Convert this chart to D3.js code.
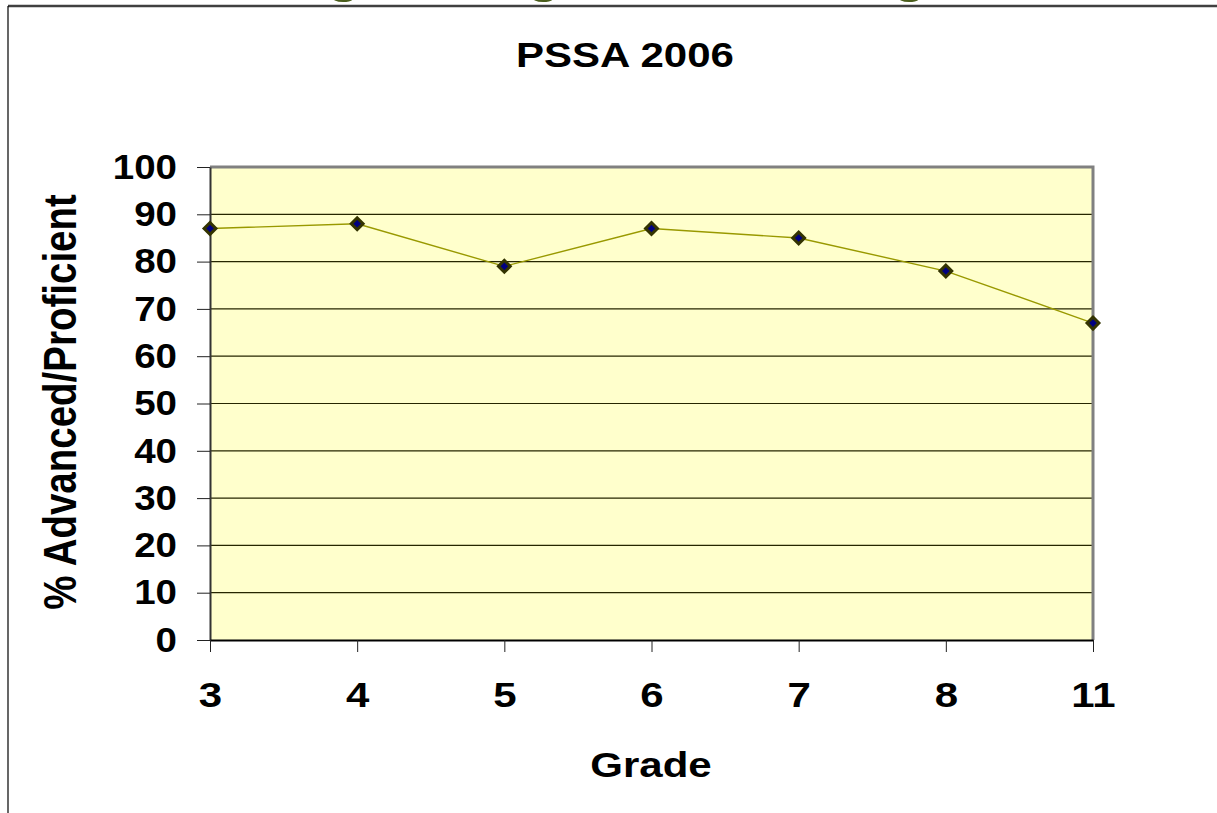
<!DOCTYPE html>
<html>
<head>
<meta charset="utf-8">
<script src="https://cdn.jsdelivr.net/npm/d3@7"></script>
<style>
  body { margin: 0; background: #fff; }
  text { font-family: "Liberation Sans", Arial, sans-serif; font-weight: bold; }
</style>
</head>
<body>
<svg id="chart" width="1217" height="813"></svg>
<script>
// data
const grades = ["3", "4", "5", "6", "7", "8", "11"];
const pctAdvProf = [87, 88, 79, 87, 85, 78, 67];
const yTicks = [0, 10, 20, 30, 40, 50, 60, 70, 80, 90, 100];

const width = 1217, height = 813;
const plot = { left: 210, right: 1093, top: 167, bottom: 640 };
const sx = 1.2; // the slide is stretched sideways a little

const svg = d3.select("#chart");

// slide frame
svg.append("line")
  .attr("x1", 8).attr("x2", width).attr("y1", 6).attr("y2", 6)
  .attr("stroke", "#404040").attr("stroke-width", 2.5);
svg.append("line")
  .attr("x1", 8).attr("x2", 8).attr("y1", 6).attr("y2", height)
  .attr("stroke", "#000").attr("stroke-width", 1.2);

// bits of the cut off slide heading
[344, 544, 910].forEach(cx => {
  svg.append("text")
    .attr("transform", `translate(${cx},-7.5) scale(${sx},1)`)
    .attr("text-anchor", "middle")
    .attr("font-size", 44)
    .attr("fill", "#4b5e1c")
    .text("g");
});

const x = d3.scalePoint().domain(grades).range([plot.left, plot.right]);
const y = d3.scaleLinear().domain([0, 100]).range([plot.bottom, plot.top]);

// plot area
svg.append("rect")
  .attr("x", plot.left).attr("y", plot.top)
  .attr("width", plot.right - plot.left).attr("height", plot.bottom - plot.top)
  .attr("fill", "#ffffcc");

// gridlines
svg.append("g")
  .selectAll("line")
  .data(yTicks.filter(v => v > 0 && v < 100))
  .enter()
  .append("line")
  .attr("x1", plot.left).attr("x2", plot.right)
  .attr("y1", d => y(d)).attr("y2", d => y(d))
  .attr("stroke", "#262600").attr("stroke-width", 1.2);

// top and right border
svg.append("path")
  .attr("d", `M${plot.left},${plot.top}H${plot.right}V${plot.bottom}`)
  .attr("fill", "none").attr("stroke", "#808080").attr("stroke-width", 3);

// y axis
const yAxis = svg.append("g")
  .attr("transform", `translate(${plot.left},0)`)
  .call(d3.axisLeft(y).tickValues(yTicks).tickSize(13).tickSizeOuter(0).tickPadding(20));
yAxis.select(".domain").attr("stroke", "#333").attr("stroke-width", 2);
yAxis.selectAll(".tick line").attr("stroke", "#222");
yAxis.selectAll("text")
  .attr("font-size", 35).attr("fill", "#000")
  .each(function () {
    const t = d3.select(this);
    const tx = +t.attr("x");
    t.attr("x", 0).attr("transform", `translate(${tx},0) scale(1.1,1)`);
  });

// x axis
const xAxis = svg.append("g")
  .attr("transform", `translate(0,${plot.bottom})`)
  .call(d3.axisBottom(x).tickSize(12).tickSizeOuter(0).tickPadding(30));
xAxis.select(".domain").attr("stroke", "#000").attr("stroke-width", 2);
xAxis.selectAll(".tick line").attr("stroke", "#222");
xAxis.selectAll("text")
  .attr("font-size", 35).attr("fill", "#000")
  .each(function () {
    const t = d3.select(this);
    const ty = +t.attr("y");
    t.attr("y", 0).attr("transform", `translate(0,${ty}) scale(${sx},1)`);
  });

// series line
const pts = grades.map((g, i) => ({ grade: g, value: pctAdvProf[i] }));
svg.append("path")
  .datum(pts)
  .attr("fill", "none")
  .attr("stroke", "#999900")
  .attr("stroke-width", 1.4)
  .attr("d", d3.line().x(d => x(d.grade)).y(d => y(d.value)));

// diamond markers
const diamond = d3.symbol().type(d3.symbolSquare).size(70);
svg.append("g")
  .selectAll("path")
  .data(pts)
  .enter()
  .append("path")
  .attr("d", diamond)
  .attr("transform", d => `translate(${x(d.grade)},${y(d.value)}) rotate(45)`)
  .attr("fill", "#000080")
  .attr("stroke", "#333300")
  .attr("stroke-width", 3);

// titles
svg.append("text")
  .attr("transform", `translate(625,67) scale(${sx},1)`)
  .attr("text-anchor", "middle")
  .attr("font-size", 35)
  .text("PSSA 2006");

svg.append("text")
  .attr("transform", `translate(651,777) scale(${sx},1)`)
  .attr("text-anchor", "middle")
  .attr("font-size", 35)
  .text("Grade");

svg.append("text")
  .attr("transform", `translate(76,402) scale(${sx},1) rotate(-90)`)
  .attr("text-anchor", "middle")
  .attr("font-size", 38.5)
  .text("% Advanced/Proficient");
</script>
</body>
</html>
